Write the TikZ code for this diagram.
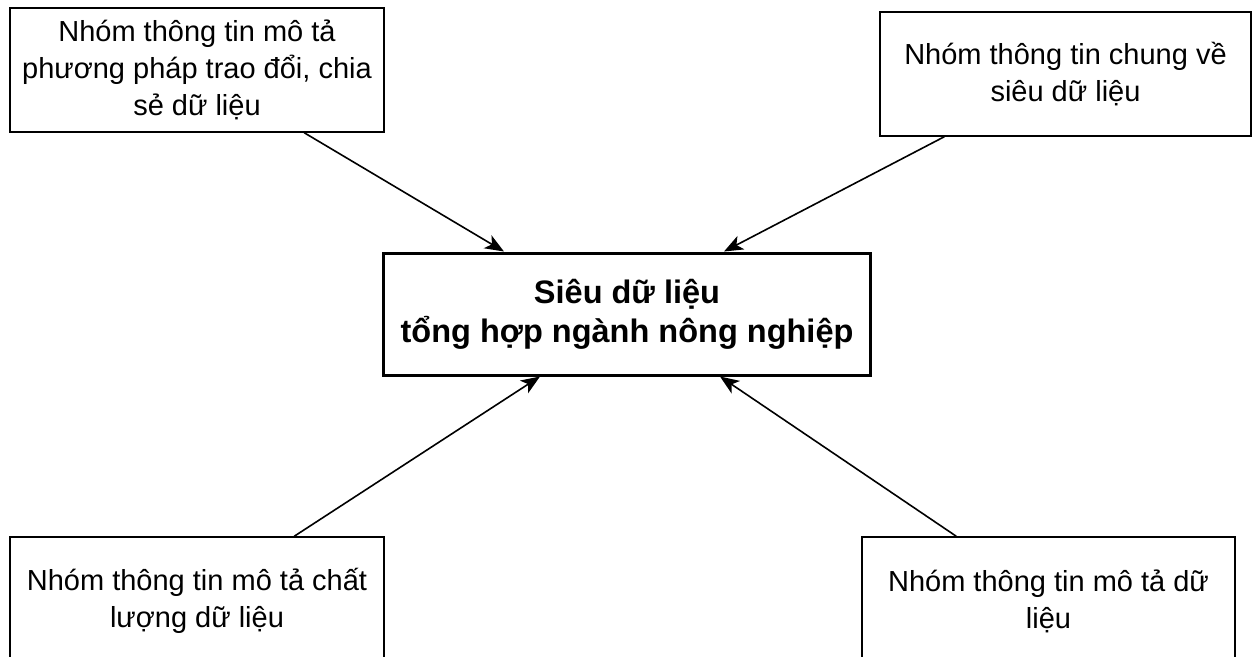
\documentclass[tikz,border=0pt]{standalone}
\usepackage{fontspec}
\setmainfont{Liberation Sans}
\usetikzlibrary{arrows.meta}
\begin{document}
\begin{tikzpicture}[x=1pt,y=-1pt,
  box/.style={draw, line width=1.5pt, align=center, font=\fontsize{29}{37}\selectfont, inner sep=0pt},
  mainbox/.style={draw, line width=3pt, align=center, font=\bfseries\fontsize{32.5}{39}\selectfont, inner sep=0pt},
  conn/.style={line width=1.6pt, arrows={-Stealth[length=19pt,width=15pt,inset=5pt]}}]
\clip (0,0) rectangle (1253,656);
\useasboundingbox (0,0) rectangle (1253,656);
\fill[white] (0,0) rectangle (1253,656);
\node[mainbox, minimum width=487pt, minimum height=122pt] (c) at (627,314) {Siêu dữ liệu\\tổng hợp ngành nông nghiệp};
\node[box, minimum width=374pt, minimum height=124pt] (tl) at (197,70) {Nhóm thông tin mô tả\\phương pháp trao đổi, chia\\sẻ dữ liệu};
\node[box, minimum width=371pt, minimum height=124pt] (tr) at (1065.5,74) {Nhóm thông tin chung về\\siêu dữ liệu};
\node[box, minimum width=374pt, minimum height=128pt] (bl) at (197,601) {Nhóm thông tin mô tả chất\\lượng dữ liệu};
\node[box, minimum width=373pt, minimum height=128pt] (br) at (1048.5,601) {Nhóm thông tin mô tả dữ\\liệu};
\draw[conn] ([xshift=295pt]tl.south west) -- ([xshift=122pt]c.north west);
\draw[conn] ([xshift=65pt]tr.south west) -- ([xshift=342pt]c.north west);
\draw[conn] ([xshift=285pt]bl.north west) -- ([xshift=158pt]c.south west);
\draw[conn] ([xshift=95pt]br.north west) -- ([xshift=338pt]c.south west);
\end{tikzpicture}
\end{document}
